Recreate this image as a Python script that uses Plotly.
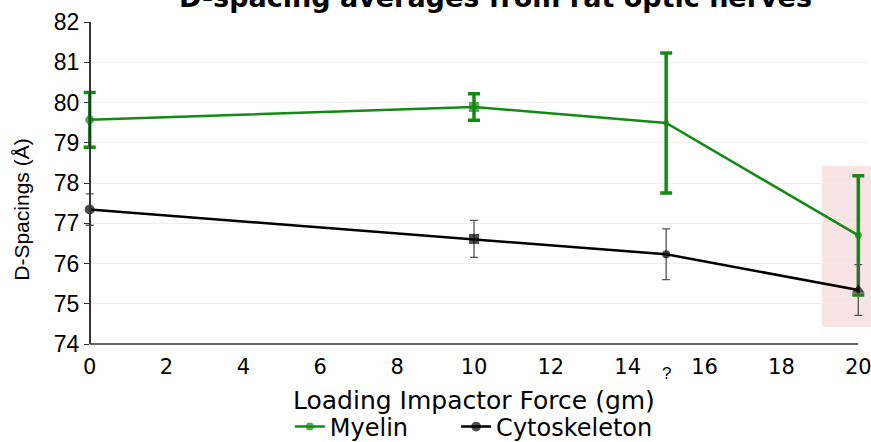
import plotly.graph_objects as go

force = [0, 10, 15, 20]
myelin = [79.57, 79.89, 79.49, 76.70]
myelin_err = [0.68, 0.33, 1.74, 1.48]
cyto = [77.34, 76.61, 76.23, 75.34]
cyto_err = [0.39, 0.46, 0.63, 0.63]
myelin_symbols = ["circle", "square", "circle", "circle"]
cyto_symbols = ["circle", "square", "circle", "triangle-up"]
x_ticks = [0, 2, 4, 6, 8, 10, 12, 14, 16, 18, 20]
y_ticks = [74, 75, 76, 77, 78, 79, 80, 81, 82]

FONT_N = "Liberation Sans, Arial, sans-serif"
FONT_W = "DejaVu Sans, Verdana, sans-serif"

# x range padded so error-bar caps at the ends are not clipped
X0, X1, PAD = 0, 20, 0.2
XR = [X0 - PAD, X1 + PAD]
def px(v):
    return (v - XR[0]) / (XR[1] - XR[0])

fig = go.Figure()
fig.add_trace(go.Scatter(
    x=force, y=myelin, name="Myelin", mode="lines+markers", cliponaxis=False,
    line=dict(color="#138a13", width=2.5),
    marker=dict(color="#138a13", size=[9, 10, 6, 7], symbol=myelin_symbols,
                line=dict(width=0)),
    error_y=dict(type="data", array=myelin_err, visible=True,
                 color="#138a13", thickness=3.5, width=6),
    legend="legend",
))
fig.add_trace(go.Scatter(
    x=force, y=cyto, name="Cytoskeleton", mode="lines+markers", cliponaxis=False,
    line=dict(color="black", width=2.5),
    marker=dict(color="black", size=[10, 10, 8, 11], symbol=cyto_symbols,
                line=dict(width=0)),
    error_y=dict(type="data", array=cyto_err, visible=True,
                 color="#555555", thickness=1.3, width=4),
    legend="legend2",
))

# highlight box around the 20 gm point
fig.add_shape(type="rect", xref="paper", yref="paper",
              x0=0.944, x1=1.007, y0=0.053, y1=0.553,
              fillcolor="rgba(220,120,120,0.2)", line=dict(width=0), layer="below")
# x axis baseline from 0 to 20
fig.add_shape(type="line", xref="paper", yref="paper",
              x0=px(X0), x1=px(X1), y0=0, y1=0,
              line=dict(color="#333333", width=1.5), layer="above")

fig.add_annotation(text="?", x=15, xref="x", y=0, yref="paper", yshift=-29,
                   showarrow=False, font=dict(size=17, color="black", family=FONT_N),
                   yanchor="middle")
fig.add_annotation(text="<b>D-spacing averages from rat optic nerves</b>",
                   x=10.55, xref="x", y=1.0, yref="paper", yshift=7,
                   showarrow=False, font=dict(size=27, color="black", family=FONT_W),
                   yanchor="bottom", xanchor="center")
fig.add_annotation(text="D-Spacings (Å)", textangle=-90,
                   x=0, xref="x", xshift=-69, y=0.416, yref="paper",
                   showarrow=False, font=dict(size=21, color="black", family=FONT_N),
                   xanchor="center", yanchor="middle")
fig.add_annotation(text="Loading Impactor Force (gm)",
                   x=10, xref="x", y=0, yref="paper", yshift=-56,
                   showarrow=False, font=dict(size=25, color="black", family=FONT_W),
                   xanchor="center", yanchor="middle")

legend_common = dict(orientation="h", xanchor="left", xref="paper",
                     y=0.034, yanchor="middle", yref="container",
                     bgcolor="rgba(0,0,0,0)",
                     font=dict(size=24, color="black", family=FONT_W))

fig.update_layout(
    width=871, height=442,
    margin=dict(l=82.32, r=5.32, t=22, b=98, autoexpand=False),
    plot_bgcolor="white", paper_bgcolor="white",
    showlegend=True,
    legend=dict(x=0.2651, **legend_common),
    legend2=dict(x=0.4772, **legend_common),
    xaxis=dict(range=XR, tickvals=x_ticks, ticktext=[str(v) for v in x_ticks],
               automargin=False, ticklabeloverflow="allow",
               showline=False, showgrid=False, zeroline=False, ticks="",
               ticklabelstandoff=8,
               tickfont=dict(size=21, color="black", family=FONT_W)),
    yaxis=dict(range=[74, 82], tickvals=y_ticks, automargin=False,
               anchor="free", position=px(X0),
               showline=True, linecolor="#333333", linewidth=1.5,
               showgrid=True, gridcolor="#eeeeee", gridwidth=1, zeroline=False,
               ticks="outside", ticklen=5, tickcolor="#333333",
               tickfont=dict(size=23, color="black", family=FONT_N)),
)

fig.write_html("out.html", config={"displayModeBar": False},
               post_script="document.body.style.margin='0';document.body.style.overflow='hidden';")
